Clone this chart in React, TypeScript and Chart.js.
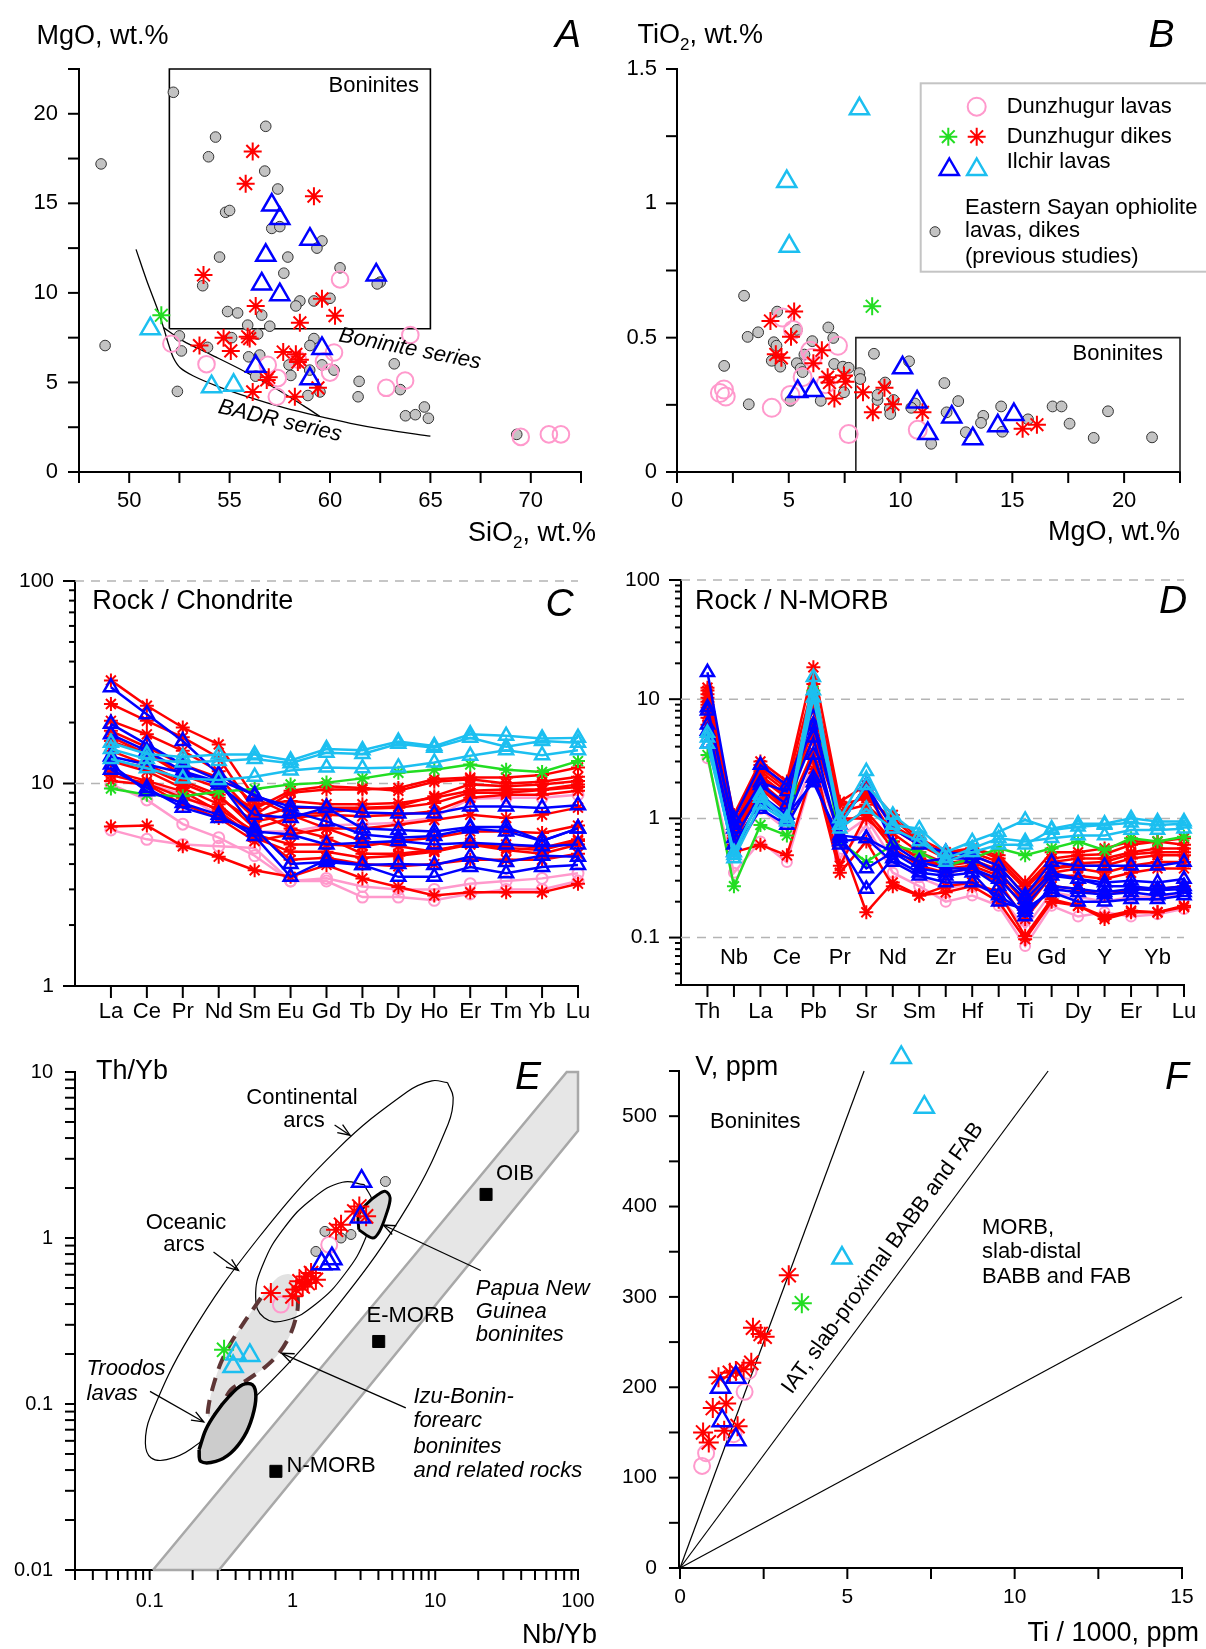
import React, { useEffect, useRef } from 'react';
import { Chart, registerables } from 'chart.js';

Chart.register(...registerables);

const FONT = '"Liberation Sans", Arial, Helvetica, sans-serif';
const COLOR = { red: '#ff0000', green: '#22dd22', blue: '#0000ff', cyan: '#1cbff0', pink: '#ff99cc', gray: '#c3c3c3' };

// ---------------- Panel A : MgO vs SiO2 ----------------
const A_GRAY = [[48.6,17.2],[48.8,7.06],[52.2,21.2],[54.3,18.7],[53.95,17.6],[56.8,19.3],[56.75,16.8],[57.4,15.8],[54.8,14.5],[55.0,14.6],[57.1,13.6],[57.5,13.7],[54.5,12.0],[59.6,12.9],[59.35,12.5],[57.9,12.0],[57.7,11.1],[60.5,11.4],[62.5,10.6],[62.35,10.5],[53.66,10.4],[58.5,9.55],[58.3,9.27],[59.2,9.55],[60.0,9.7],[54.9,8.96],[55.4,8.88],[56.6,8.76],[55.9,8.2],[57.0,8.14],[52.5,7.6],[52.6,6.76],[53.9,6.96],[55.1,7.5],[56.4,7.7],[59.2,7.45],[59.0,7.06],[55.95,6.43],[56.5,6.53],[57.96,5.98],[59.6,5.98],[60.2,5.69],[56.3,5.35],[58.05,5.39],[58.99,5.69],[52.4,4.5],[58.9,4.27],[59.5,4.47],[61.45,5.06],[61.4,4.2],[63.2,6.04],[63.5,4.6],[63.76,3.14],[64.25,3.2],[64.7,3.63],[64.9,3.0],[69.3,2.1]];
const A_PINK = [[60.5,10.75],[52.1,7.16],[53.85,6.02],[56.9,5.98],[57.4,5.24],[57.35,4.2],[58.4,6.27],[59.7,6.18],[60.2,6.67],[60.0,5.55],[64.0,7.65],[62.8,4.7],[63.74,5.1],[69.5,1.96],[70.9,2.1],[71.5,2.1]];
const A_RED = [[56.15,17.9],[55.8,16.1],[59.2,15.4],[53.7,11.0],[56.3,9.27],[59.6,9.67],[60.25,8.73],[58.5,8.33],[54.7,7.49],[55.9,7.55],[56.0,7.45],[53.5,7.06],[55.06,6.76],[57.67,6.7],[58.3,6.57],[58.5,6.27],[58.4,6.14],[56.95,5.29],[56.85,5.14],[56.15,4.47],[58.25,4.2],[59.4,4.7]];
const A_GREEN = [[51.6,8.75]];
const A_BLUE = [[57.1,14.9],[57.5,14.15],[59.0,13.0],[56.8,12.1],[56.6,10.5],[57.5,9.9],[62.3,11.0],[59.6,6.9],[56.3,5.9],[59.0,5.2]];
const A_CYAN = [[51.05,8.0],[54.1,4.76],[55.2,4.84]];
const A_LINE_LOWER = [[50.34,12.43],[50.88,10.66],[51.38,9.18],[51.71,8.06],[51.96,7.13],[52.2,6.38],[52.54,5.82],[53.2,5.36],[54.37,4.8],[56.03,4.15],[57.7,3.59],[59.36,3.13],[61.02,2.72],[62.68,2.38],[65.0,2.0]];
const A_LINE_UPPER = [[51.71,8.06],[52.7,7.31],[54.04,6.57],[55.7,5.64],[57.36,4.62],[58.69,3.69],[59.5,3.1]];
const A_BONINITE_FIELD = [[52,8],[52,22.5],[65,22.5],[65,8],[52,8]];

// ---------------- Panel B : TiO2 vs MgO ----------------
const B_GRAY = [[3.0,0.656],[3.16,0.503],[3.63,0.52],[2.11,0.395],[3.21,0.252],[4.48,0.597],[4.33,0.483],[4.45,0.47],[4.24,0.414],[4.62,0.392],[5.36,0.529],[5.07,0.265],[6.05,0.487],[5.7,0.437],[5.36,0.405],[5.53,0.385],[5.62,0.372],[6.77,0.538],[6.99,0.499],[6.43,0.265],[7.03,0.402],[7.42,0.392],[7.68,0.388],[8.16,0.368],[8.2,0.346],[7.47,0.297],[8.81,0.44],[9.31,0.333],[8.97,0.268],[9.69,0.268],[9.52,0.235],[9.54,0.216],[10.38,0.412],[10.64,0.255],[10.48,0.239],[11.96,0.331],[12.06,0.222],[12.58,0.264],[11.37,0.105],[12.92,0.148],[13.7,0.209],[13.6,0.183],[14.5,0.244],[14.55,0.15],[15.7,0.196],[16.8,0.244],[17.2,0.244],[17.56,0.18],[18.64,0.127],[19.28,0.226],[21.25,0.129],[8.97,0.287]];
const B_PINK = [[2.1,0.307],[2.18,0.281],[1.92,0.294],[4.24,0.239],[4.72,0.575],[5.19,0.529],[5.07,0.287],[5.62,0.353],[5.96,0.451],[6.05,0.425],[6.65,0.327],[7.2,0.47],[7.68,0.141],[10.77,0.157]];
const B_RED = [[4.18,0.562],[5.24,0.597],[5.1,0.503],[4.42,0.438],[4.67,0.425],[6.48,0.453],[6.1,0.405],[6.74,0.353],[6.82,0.333],[7.47,0.359],[7.54,0.336],[7.04,0.274],[8.32,0.297],[8.76,0.222],[9.28,0.314],[9.66,0.252],[10.98,0.222],[15.46,0.161],[16.1,0.176]];
const B_GREEN = [[8.73,0.617]];
const B_BLUE = [[5.4,0.3],[6.1,0.303],[10.09,0.388],[10.74,0.261],[11.22,0.143],[12.29,0.205],[13.23,0.124],[14.35,0.172],[15.07,0.214]];
const B_CYAN = [[8.16,1.352],[4.91,1.081],[5.02,0.84]];
const B_BONINITE_FIELD = [[8,0],[8,0.5],[22.5,0.5],[22.5,0]];

// ---------------- Panel C : REE / chondrite ----------------
const REE = ['La','Ce','Pr','Nd','Sm','Eu','Gd','Tb','Dy','Ho','Er','Tm','Yb','Lu'];
const C_PINK = [
  [9.9,8.3,6.3,5.4,4.4,3.3,3.3,2.75,2.75,2.65,2.85,3.0,3.0,3.3],
  [5.9,5.3,5.0,4.9,4.8,3.3,3.4,3.1,3.0,3.0,3.2,3.3,3.4,3.6],
  [11.0,10.0,8.8,7.0,5.8,5.8,6.2,6.3,6.4,6.8,8.4,8.5,8.5,8.8],
];
const C_RED = [
  [32.3,24.2,18.9,15.6,8.5,7.0,6.0,5.2,4.9,4.6,5.1,4.8,4.7,5.2],
  [24.7,20.4,16.9,13.4,7.3,6.0,5.4,4.5,4.5,4.7,5.0,5.0,4.8,5.3],
  [20.4,17.5,14.5,11.5,7.9,8.2,7.9,7.9,8.0,8.5,9.2,9.35,9.35,9.9],
  [18.2,15.1,12.4,10.7,7.0,9.0,9.35,9.35,9.5,10.5,10.7,10.7,11.0,12.0],
  [16.2,14.0,11.5,9.9,6.75,7.6,7.6,7.6,7.7,8.66,9.9,9.7,9.9,10.3],
  [14.5,12.4,10.3,8.8,6.0,6.75,7.0,6.9,7.0,7.3,8.5,8.8,8.8,9.2],
  [12.9,11.5,9.5,7.9,5.6,5.0,5.0,4.9,5.2,5.4,5.8,5.8,5.7,6.2],
  [11.5,10.3,9.15,7.3,5.4,4.6,4.6,4.3,4.4,4.6,5.0,4.7,4.5,5.0],
  [6.14,6.2,4.9,4.35,3.73,3.46,3.96,3.4,3.08,2.8,2.9,2.9,2.9,3.2],
  [10.3,9.9,7.9,6.75,5.2,5.6,6.0,6.0,6.25,6.6,7.0,6.75,7.0,7.6],
  [13.0,12.0,10.0,8.5,6.5,7.0,7.2,7.5,7.6,8.0,9.0,9.0,9.3,9.6],
  [17.0,14.0,11.0,9.5,7.5,9.2,9.7,9.5,9.2,10.2,10.5,10.0,10.2,10.8],
  [11.0,10.0,8.5,7.5,5.8,4.2,4.3,4.0,3.9,4.0,4.2,4.2,4.2,4.5],
];
const C_GREEN = [[9.44,8.8,8.66,9.1,9.4,9.9,10.1,10.6,11.3,11.7,12.4,11.7,11.4,12.9]];
const C_BLUE = [
  [29.9,22.0,16.2,11.1,8.66,7.7,7.57,7.2,7.1,7.1,7.7,7.7,7.57,7.8],
  [19.7,15.6,12.4,10.4,8.8,7.3,6.5,5.6,5.4,5.5,6.0,5.8,5.2,6.0],
  [17.5,14.5,11.5,10.2,6.0,4.0,4.1,3.96,4.0,3.96,4.35,4.1,4.4,4.35],
  [12.4,9.15,8.0,7.0,5.5,3.46,4.2,3.96,3.46,3.46,3.87,3.6,3.87,3.96],
  [11.7,9.5,7.6,6.75,5.8,5.6,5.0,5.1,5.2,5.0,5.1,5.0,4.9,5.0],
  [13.6,12.4,11.3,9.9,7.0,6.75,7.6,6.0,5.9,5.8,6.1,6.1,5.2,6.0],
];
const C_CYAN = [
  [15.9,14.0,13.5,13.9,13.9,13.0,14.8,14.6,16.1,15.3,17.5,17.2,16.7,16.8],
  [14.8,13.2,12.7,12.9,13.2,12.6,14.2,14.0,15.7,15.0,16.8,15.2,16.2,15.9],
  [13.2,11.9,10.6,10.4,10.8,11.6,12.0,11.9,12.0,12.7,13.7,14.6,13.8,14.6],
];

// ---------------- Panel D : trace elements / N-MORB ----------------
const TRACE = ['Th','Nb','La','Ce','Pb','Pr','Sr','Nd','Sm','Zr','Hf','Eu','Ti','Gd','Dy','Y','Er','Yb','Lu'];
const D_PINK = [
  [3.2,0.35,0.64,0.43,2.48,0.46,0.88,0.35,0.27,0.2,0.225,0.185,0.085,0.185,0.15,0.163,0.15,0.157,0.174],
  [5.0,0.5,1.2,0.8,3.0,0.7,1.0,0.45,0.32,0.26,0.28,0.23,0.12,0.24,0.22,0.2,0.22,0.22,0.23],
];
const D_RED = [
  [12.5,1.07,3.0,2.04,18.5,1.38,1.9,1.07,0.68,0.52,0.56,0.46,0.27,0.46,0.49,0.5,0.6,0.64,0.6],
  [11.0,0.82,2.48,1.68,10.3,1.14,1.3,0.82,0.6,0.46,0.49,0.4,0.225,0.38,0.4,0.4,0.46,0.49,0.49],
  [9.0,0.72,2.0,1.3,6.1,0.88,1.14,0.64,0.46,0.38,0.4,0.33,0.174,0.33,0.33,0.31,0.35,0.38,0.38],
  [7.5,0.6,1.79,1.14,3.66,0.68,0.163,0.29,0.225,0.27,0.29,0.24,0.103,0.21,0.185,0.143,0.163,0.163,0.18],
  [6.1,0.52,0.6,0.49,2.6,0.35,0.64,0.27,0.225,0.24,0.27,0.2,0.097,0.2,0.185,0.15,0.168,0.163,0.185],
  [10.3,0.88,2.64,1.79,8.5,1.07,1.68,0.88,0.64,0.49,0.52,0.43,0.256,0.43,0.46,0.46,0.52,0.56,0.56],
  [8.5,0.68,2.18,1.48,4.74,1.0,1.0,0.64,0.46,0.4,0.43,0.35,0.2,0.35,0.38,0.35,0.4,0.43,0.43],
  [7.0,0.64,1.9,1.2,3.2,0.4,1.07,0.56,0.4,0.35,0.38,0.29,0.143,0.27,0.256,0.225,0.256,0.256,0.27],
  [11.8,1.0,2.8,1.9,13.4,1.3,1.48,1.0,0.64,0.49,0.56,0.49,0.29,0.52,0.52,0.56,0.64,0.64,0.68],
  [9.5,0.8,2.3,1.55,5.5,1.1,1.6,0.75,0.52,0.42,0.45,0.37,0.19,0.38,0.42,0.43,0.5,0.52,0.52],
];
const D_GREEN = [[3.4,0.27,0.88,0.72,11.8,0.64,0.43,0.6,0.52,0.4,0.46,0.56,0.49,0.56,0.64,0.54,0.68,0.64,0.7]];
const D_BLUE = [
  [16.8,1.0,2.8,1.9,7.0,0.88,1.9,0.82,0.6,0.52,0.49,0.4,0.225,0.43,0.4,0.4,0.4,0.4,0.43],
  [8.0,0.88,1.9,1.3,4.74,0.64,0.68,0.52,0.43,0.38,0.38,0.31,0.185,0.33,0.31,0.29,0.3,0.29,0.31],
  [5.4,0.52,1.2,0.88,2.18,0.6,0.256,0.46,0.35,0.33,0.35,0.2,0.174,0.24,0.2,0.2,0.21,0.21,0.225],
  [8.5,0.82,2.0,1.68,6.1,0.88,1.9,0.6,0.43,0.46,0.46,0.35,0.21,0.35,0.31,0.27,0.27,0.256,0.27],
  [4.2,0.6,1.38,1.0,3.4,0.72,0.68,0.43,0.33,0.29,0.29,0.225,0.163,0.256,0.24,0.23,0.24,0.225,0.24],
  [6.1,0.68,1.57,1.07,2.0,0.68,0.38,0.52,0.38,0.35,0.38,0.27,0.15,0.27,0.256,0.24,0.256,0.25,0.256],
];
const D_CYAN = [
  [4.74,0.49,1.57,1.0,11.8,1.0,2.48,0.88,0.82,0.52,0.64,0.77,0.97,0.82,0.9,0.9,1.0,0.94,0.94],
  [5.2,0.46,1.3,0.94,15.3,0.82,1.2,0.82,0.64,0.46,0.56,0.68,0.64,0.68,0.72,0.72,0.8,0.8,0.82],
  [4.2,0.52,1.48,0.94,10.3,0.88,1.9,1.07,0.72,0.43,0.52,0.6,0.6,0.8,0.85,0.88,0.92,0.88,0.9],
];

// ---------------- Panel E : Th/Yb vs Nb/Yb ----------------
const E_GRAY = [[4.48,2.19],[1.69,1.096],[1.46,0.83],[2.19,1.0],[2.57,1.05]];
const E_PINK = [[1.81,0.91],[0.83,0.397]];
const E_RED = [[2.94,1.55],[2.71,1.445],[3.28,1.35],[2.19,1.2],[2.02,1.12],[1.24,0.587],[1.35,0.615],[1.12,0.548],[1.46,0.56],[1.18,0.51],[1.0,0.445],[0.706,0.466],[1.28,0.535],[1.06,0.49]];
const E_GREEN = [[0.332,0.212]];
const E_BLUE = [[3.05,2.2],[2.99,1.34],[1.6,0.7],[1.81,0.7],[1.89,0.75]];
const E_CYAN = [[0.402,0.2],[0.503,0.196],[0.384,0.168]];
const E_REFERENCE = [[0.766,0.0393],[4.02,0.238],[22.7,1.83]]; // N-MORB, E-MORB, OIB
const E_MORB_OIB_ARRAY = [[0.1055,0.01],[0.306,0.01],[100,4.43],[100,10],[83.4,10],[0.1055,0.01]];
const E_ARC_FIELD_OUTER = [[12.2,8.62],[13.36,7.02],[12.32,4.868],[6.527,1.594],[2.158,0.4093],[0.5972,0.1183],[0.1955,0.05377],[0.1314,0.04619],[0.1021,0.04749],[0.0933,0.0583],[0.1011,0.0841],[0.1908,0.2564],[0.5773,1.0],[2.086,3.456],[6.371,7.608],[9.48,8.85],[12.2,8.62]];
const E_ARC_FIELD_INNER = [[3.19,2.095],[3.66,1.58],[3.26,1.004],[2.325,0.607],[1.452,0.3988],[0.903,0.3197],[0.634,0.3311],[0.5528,0.4387],[0.621,0.6905],[0.87,1.142],[1.393,1.737],[2.24,2.168],[3.19,2.095]];
const E_TROODOS = [[0.2218,0.053],[0.2472,0.07003],[0.2904,0.08826],[0.36,0.1111],[0.4465,0.1307],[0.5248,0.1307],[0.5545,0.1111],[0.5248,0.0842],[0.459,0.0638],[0.3701,0.0507],[0.2904,0.0451],[0.228,0.0451],[0.2218,0.053]];
const E_PNG = [[2.914,1.122],[3.649,1.0],[4.066,1.096],[4.531,1.382],[4.833,1.742],[4.479,1.909],[3.956,1.823],[3.365,1.625],[2.91,1.382],[2.914,1.122]];
const E_IZU_BONIN = [[0.601,0.435],[0.4718,0.322],[0.3701,0.233],[0.3148,0.1766],[0.2826,0.1338],[0.2607,0.1014],[0.2578,0.0842],[0.298,0.0883],[0.3701,0.1219],[0.4841,0.14],[0.6516,0.1684],[0.808,0.2028],[0.9761,0.2677],[1.086,0.37],[1.086,0.488],[0.976,0.601],[0.808,0.587],[0.6873,0.511],[0.601,0.435]];

// ---------------- Panel F : V vs Ti/1000 ----------------
const F_PINK = [[0.66,113],[0.78,127],[1.93,195],[2.05,218],[1.6,148]];
const F_RED = [[3.25,324],[2.18,266],[2.41,259],[2.53,256],[2.13,227],[1.9,220],[1.67,218],[1.49,216],[1.15,211],[0.98,177],[1.38,182],[1.72,157],[1.32,152],[0.69,150],[0.86,139]];
const F_GREEN = [[3.64,293]];
const F_BLUE = [[1.21,200],[1.67,211],[1.26,163],[1.67,142]];
const F_CYAN = [[6.61,565],[7.3,510],[4.84,343]];
const F_TIV_LINES = [[[0,0],[5.5,550]],[[0,0],[11,550]],[[0,0],[15,300]]]; // Ti/V = 10, 20, 50
const F_V_AXIS_TOP = 550;

// ---------------- helpers ----------------
const xy = (arr) => arr.map(([x, y]) => ({ x, y }));
const seq = (a, b, step) => { const o = []; for (let v = a; v <= b + 1e-9; v += step) o.push(+v.toFixed(6)); return o; };
const logTicks = (lo, hi) => {
  const o = [];
  for (let e = Math.floor(Math.log10(lo)) - 1; e <= Math.ceil(Math.log10(hi)); e++) {
    for (let m = 1; m <= 9; m++) {
      const v = +(m * Math.pow(10, e)).toPrecision(6);
      if (v >= lo * (1 - 1e-9) && v <= hi * (1 + 1e-9)) o.push(v);
    }
  }
  return o;
};
const isPow10 = (v) => Math.abs(Math.log10(v) - Math.round(Math.log10(v))) < 1e-9;
const isMult = (v, m) => Math.abs(v / m - Math.round(v / m)) < 1e-9;

const mk = (style, r, stroke, fill = 'rgba(0,0,0,0)', lw = 2) => ({
  pointStyle: style, pointRadius: r, pointHoverRadius: r, pointBorderColor: stroke,
  pointBackgroundColor: fill, pointBorderWidth: lw, pointHoverBorderWidth: lw,
});
const M = {
  gray: (r) => mk('circle', r, '#333', COLOR.gray, 1),
  pink: (r) => mk('circle', r, COLOR.pink, 'rgba(0,0,0,0)', 2),
  red: (r) => mk('star', r, COLOR.red, 'rgba(0,0,0,0)', 2),
  green: (r) => mk('star', r, COLOR.green, 'rgba(0,0,0,0)', 2),
  blue: (r) => mk('triangle', r, COLOR.blue, 'rgba(0,0,0,0)', 2.5),
  cyan: (r) => mk('triangle', r, COLOR.cyan, 'rgba(0,0,0,0)', 2.5),
  sq: (r) => mk('rect', r, '#000', '#000', 1),
};
const sc = (pts, m) => ({ type: 'scatter', data: xy(pts), showLine: false, clip: false, ...m });
const lineDs = (pts, o: any = {}) => ({
  type: 'line', data: xy(pts), borderColor: o.color || '#000', borderWidth: o.width ?? 1.2,
  borderDash: o.dash || [], pointRadius: 0, pointHoverRadius: 0, tension: o.tension ?? 0,
  fill: o.fill ? 'shape' : false, backgroundColor: o.fill || 'rgba(0,0,0,0)', clip: false, spanGaps: true,
});
const spider = (vals, m, color) => ({
  type: 'line', data: vals.map((v, i) => ({ x: i, y: v })), borderColor: color, borderWidth: 2.5,
  tension: 0, clip: false, fill: false, ...m,
});
const ordered = (ds) => ds.map((d, i) => ({ ...d, order: -i }));

function mkScale(o) {
  return {
    type: o.type || 'linear', min: o.min, max: o.max, position: o.axis === 'x' ? 'bottom' : 'left',
    afterBuildTicks: (s) => { s.ticks = o.ticks.map((v) => ({ value: v })); },
    afterFit: (s) => {
      if (o.axis === 'x') s.height = o.fit; else s.width = o.fit;
      s.paddingLeft = 0; s.paddingRight = 0; s.paddingTop = 0; s.paddingBottom = 0;
    },
    grid: { display: true, drawOnChartArea: false, drawTicks: false },
    border: { display: o.noBorder ? false : true, color: '#000', width: 2 },
    ticks: {
      callback: (v) => o.label(v), font: { family: FONT, size: o.size }, color: '#000',
      padding: o.pad, autoSkip: false, maxRotation: 0, minRotation: 0,
    },
  };
}

function tickMarks(lenX, lenY, yAxisTop?) {
  return {
    id: 'tickmarks',
    afterDraw(chart) {
      const { ctx, chartArea: ca } = chart;
      const sx = chart.scales.x, sy = chart.scales.y;
      ctx.save(); ctx.strokeStyle = '#000'; ctx.lineWidth = 2;
      if (yAxisTop !== undefined) {
        ctx.beginPath(); ctx.moveTo(ca.left - 1, ca.bottom); ctx.lineTo(ca.left - 1, sy.getPixelForValue(yAxisTop)); ctx.stroke();
      }
      for (const t of sx.ticks) {
        const p = sx.getPixelForValue(t.value);
        ctx.beginPath(); ctx.moveTo(p, ca.bottom); ctx.lineTo(p, ca.bottom + lenX(t.value)); ctx.stroke();
      }
      for (const t of sy.ticks) {
        const p = sy.getPixelForValue(t.value);
        ctx.beginPath(); ctx.moveTo(ca.left, p); ctx.lineTo(ca.left - lenY(t.value), p); ctx.stroke();
      }
      ctx.restore();
    },
  };
}
const annot = (fn) => ({ id: 'annot', afterDraw(chart) { fn(chart.ctx, chart); } });

function T(ctx, s, x, y, o: any = {}) {
  const { size = 22, align = 'left', italic = false, rot = 0 } = o;
  ctx.save();
  ctx.font = `${italic ? 'italic ' : ''}${size}px ${FONT}`;
  ctx.fillStyle = '#000'; ctx.textAlign = align; ctx.textBaseline = 'middle';
  ctx.translate(x, y); if (rot) ctx.rotate((rot * Math.PI) / 180);
  ctx.fillText(s, 0, 0);
  ctx.restore();
}
function RT(ctx, parts, x, y, size, align = 'left') {
  ctx.save(); ctx.fillStyle = '#000'; ctx.textBaseline = 'alphabetic'; ctx.textAlign = 'left';
  const sub = Math.round(size * 0.62);
  const w = parts.map(([t, s]) => { ctx.font = `${s ? sub : size}px ${FONT}`; return ctx.measureText(t).width; });
  const total = w.reduce((a, b) => a + b, 0);
  let cx = align === 'right' ? x - total : x;
  const base = y + size * 0.36;
  parts.forEach(([t, s], i) => { ctx.font = `${s ? sub : size}px ${FONT}`; ctx.fillText(t, cx, base + (s ? size * 0.24 : 0)); cx += w[i]; });
  ctx.restore();
}
function ARW(ctx, x1, y1, x2, y2) {
  ctx.save(); ctx.strokeStyle = '#000'; ctx.lineWidth = 1.3;
  ctx.beginPath(); ctx.moveTo(x1, y1); ctx.lineTo(x2, y2); ctx.stroke();
  const a = Math.atan2(y2 - y1, x2 - x1), L = 13, w = 0.38;
  ctx.beginPath();
  ctx.moveTo(x2 - L * Math.cos(a - w), y2 - L * Math.sin(a - w)); ctx.lineTo(x2, y2);
  ctx.lineTo(x2 - L * Math.cos(a + w), y2 - L * Math.sin(a + w)); ctx.stroke();
  ctx.restore();
}
function mCircle(ctx, x, y, r, stroke, fill, lw) {
  ctx.save(); ctx.beginPath(); ctx.arc(x, y, r, 0, Math.PI * 2);
  if (fill) { ctx.fillStyle = fill; ctx.fill(); }
  ctx.strokeStyle = stroke; ctx.lineWidth = lw; ctx.stroke(); ctx.restore();
}
function mTri(ctx, x, y, r, color, lw) {
  ctx.save(); ctx.beginPath();
  ctx.moveTo(x, y - r); ctx.lineTo(x + 0.866 * r, y + 0.5 * r); ctx.lineTo(x - 0.866 * r, y + 0.5 * r); ctx.closePath();
  ctx.strokeStyle = color; ctx.lineWidth = lw; ctx.stroke(); ctx.restore();
}
function mStar(ctx, x, y, r, color, lw) {
  ctx.save(); ctx.strokeStyle = color; ctx.lineWidth = lw; ctx.beginPath();
  for (let k = 0; k < 4; k++) {
    const a = (k * Math.PI) / 4;
    ctx.moveTo(x - r * Math.cos(a), y - r * Math.sin(a)); ctx.lineTo(x + r * Math.cos(a), y + r * Math.sin(a));
  }
  ctx.stroke(); ctx.restore();
}

const baseOpts = (pad, scales) => ({
  animation: false, responsive: false, maintainAspectRatio: false, devicePixelRatio: 1, events: [],
  layout: { padding: pad, autoPadding: false },
  plugins: { legend: { display: false }, tooltip: { enabled: false } },
  scales,
});

// ---------------- chart configs ----------------
const cfgA = () => ({
  type: 'scatter',
  data: { datasets: ordered([
    lineDs(A_BONINITE_FIELD, { width: 1.6 }),
    lineDs(A_LINE_LOWER, { width: 1.3, tension: 0.3 }),
    lineDs(A_LINE_UPPER, { width: 1.3, tension: 0.3 }),
    sc(A_GRAY, M.gray(5.3)), sc(A_PINK, M.pink(8.3)), sc(A_RED, M.red(9)), sc(A_GREEN, M.green(9)),
    sc(A_BLUE, M.blue(11)), sc(A_CYAN, M.cyan(11)),
  ]) },
  options: baseOpts({ left: 0, top: 69, right: 22, bottom: 0 }, {
    x: mkScale({ axis: 'x', min: 47.5, max: 72.5, ticks: seq(47.5, 72.5, 2.5), label: (v) => (isMult(v, 5) ? String(v) : ''), size: 22, pad: 16, fit: 88 }),
    y: mkScale({ axis: 'y', min: 0, max: 22.5, ticks: seq(0, 22.5, 2.5), label: (v) => (isMult(v, 5) ? String(v) : ''), size: 22, pad: 21, fit: 79 }),
  }),
  plugins: [tickMarks(() => 11, () => 11), annot((ctx) => {
    T(ctx, 'MgO, wt.%', 36.5, 37, { size: 27 });
    T(ctx, 'A', 568, 36, { size: 39, italic: true, align: 'center' });
    RT(ctx, [['SiO', false], ['2', true], [', wt.%', false]], 596, 531.6, 27, 'right');
    T(ctx, 'Boninites', 419, 86, { size: 22, align: 'right' });
    T(ctx, 'Boninite series', 410, 349, { size: 22, italic: true, align: 'center', rot: 11 });
    T(ctx, 'BADR series', 280, 421, { size: 22, italic: true, align: 'center', rot: 13 });
  })],
});

const cfgB = () => ({
  type: 'scatter',
  data: { datasets: ordered([
    lineDs(B_BONINITE_FIELD, { width: 1.6, color: '#222' }),
    sc(B_GRAY, M.gray(5.4)), sc(B_PINK, M.pink(9)), sc(B_RED, M.red(9)), sc(B_GREEN, M.green(9)),
    sc(B_BLUE, M.blue(11)), sc(B_CYAN, M.cyan(11)),
  ]) },
  options: baseOpts({ left: 0, top: 69, right: 26, bottom: 0 }, {
    x: mkScale({ axis: 'x', min: 0, max: 22.5, ticks: seq(0, 22.5, 2.5), label: (v) => (isMult(v, 5) ? String(v) : ''), size: 22, pad: 16, fit: 88 }),
    y: mkScale({ axis: 'y', min: 0, max: 1.5, ticks: seq(0, 1.5, 0.25), label: (v) => (isMult(v, 0.5) ? String(v) : ''), size: 22, pad: 20, fit: 74 }),
  }),
  plugins: [tickMarks(() => 11, () => 11), annot((ctx) => {
    RT(ctx, [['TiO', false], ['2', true], [', wt.%', false]], 34.6, 33.3, 27, 'left');
    T(ctx, 'B', 558.5, 36, { size: 39, italic: true, align: 'center' });
    T(ctx, 'MgO, wt.%', 577, 533, { size: 27, align: 'right' });
    T(ctx, 'Boninites', 560, 354, { size: 22, align: 'right' });
    ctx.save(); ctx.strokeStyle = '#c4c4c4'; ctx.lineWidth = 2; ctx.strokeRect(317.7, 83.3, 330, 188.4); ctx.restore();
    mCircle(ctx, 373.7, 106.7, 9, COLOR.pink, null, 2);
    T(ctx, 'Dunzhugur lavas', 403.7, 106.7);
    mStar(ctx, 345.3, 136.7, 9, COLOR.green, 2); mStar(ctx, 373.7, 136.7, 9, COLOR.red, 2);
    T(ctx, 'Dunzhugur dikes', 403.7, 136.7);
    mTri(ctx, 346.3, 169.5, 11, COLOR.blue, 2.5); mTri(ctx, 373.7, 169.5, 11, COLOR.cyan, 2.5);
    T(ctx, 'Ilchir lavas', 403.7, 161.7);
    mCircle(ctx, 332, 231.7, 5, '#333', COLOR.gray, 1);
    T(ctx, 'Eastern Sayan ophiolite', 362, 208.3);
    T(ctx, 'lavas, dikes', 362, 230.5);
    T(ctx, '(previous studies)', 362, 256.7);
  })],
});

const cfgC = () => ({
  type: 'scatter',
  data: { datasets: ordered([
    lineDs([[-1, 100], [13, 100]], { color: '#b4b4b4', width: 1.5, dash: [9, 7] }),
    lineDs([[-1, 10], [13, 10]], { color: '#b4b4b4', width: 1.5, dash: [9, 7] }),
    ...C_PINK.map((v) => spider(v, M.pink(5.5), COLOR.pink)),
    ...C_RED.map((v) => spider(v, M.red(7), COLOR.red)),
    ...C_GREEN.map((v) => spider(v, M.green(7), COLOR.green)),
    ...C_BLUE.map((v) => spider(v, M.blue(8), COLOR.blue)),
    ...C_CYAN.map((v) => spider(v, M.cyan(8), COLOR.cyan)),
  ]) },
  options: baseOpts({ left: 0, top: 31, right: 25, bottom: 0 }, {
    x: mkScale({ axis: 'x', min: -1, max: 13, ticks: seq(0, 13, 1), label: (v) => REE[Math.round(v)] || '', size: 22, pad: 13, fit: 44 }),
    y: mkScale({ axis: 'y', type: 'logarithmic', min: 1, max: 100, ticks: logTicks(1, 100), label: (v) => (isPow10(v) ? String(v) : ''), size: 21, pad: 21, fit: 75 }),
  }),
  plugins: [tickMarks(() => 12, (v) => (isPow10(v) ? 12 : 6)), annot((ctx) => {
    T(ctx, 'Rock / Chondrite', 92.3, 52, { size: 27 });
    T(ctx, 'C', 559.5, 55.4, { size: 39, italic: true, align: 'center' });
  })],
});

const cfgD = () => ({
  type: 'scatter',
  data: { datasets: ordered([
    ...[100, 10, 1, 0.1].map((g) => lineDs([[-1, g], [18, g]], { color: '#b4b4b4', width: 1.5, dash: [9, 7] })),
    ...D_PINK.map((v) => spider(v, M.pink(5), COLOR.pink)),
    ...D_RED.map((v) => spider(v, M.red(7), COLOR.red)),
    ...D_GREEN.map((v) => spider(v, M.green(7), COLOR.green)),
    ...D_BLUE.map((v) => spider(v, M.blue(7.5), COLOR.blue)),
    ...D_CYAN.map((v) => spider(v, M.cyan(7.5), COLOR.cyan)),
  ]) },
  options: baseOpts({ left: 0, top: 30, right: 22, bottom: 0 }, {
    x: mkScale({ axis: 'x', min: -1, max: 18, ticks: seq(0, 18, 1), label: (v) => (Math.round(v) % 2 === 0 ? TRACE[Math.round(v)] : ''), size: 22, pad: 14, fit: 45 }),
    y: mkScale({ axis: 'y', type: 'logarithmic', min: 0.04, max: 100, ticks: logTicks(0.04, 100), label: (v) => (isPow10(v) ? String(v) : ''), size: 21, pad: 21, fit: 78 }),
  }),
  plugins: [tickMarks(() => 12, (v) => (isPow10(v) ? 12 : 6)), annot((ctx, chart) => {
    T(ctx, 'Rock / N-MORB', 92, 52, { size: 27 });
    T(ctx, 'D', 570, 52, { size: 39, italic: true, align: 'center' });
    const sx = chart.scales.x;
    TRACE.forEach((el, i) => { if (i % 2 === 1) T(ctx, el, sx.getPixelForValue(i), 407.7, { size: 22, align: 'center' }); });
  })],
});

const cfgE = () => ({
  type: 'scatter',
  data: { datasets: ordered([
    lineDs(E_MORB_OIB_ARRAY, { color: '#a8a8a8', width: 2.5, fill: '#e6e6e6' }),
    lineDs(E_ARC_FIELD_OUTER, { width: 1.2, tension: 0.4 }),
    lineDs(E_IZU_BONIN, { color: 'rgba(0,0,0,0)', width: 0, fill: '#e2e2e2', tension: 0.3 }),
    lineDs(E_ARC_FIELD_INNER, { width: 1.2, tension: 0.45 }),
    lineDs(E_IZU_BONIN.slice(0, 15), { color: '#5e3636', width: 4, dash: [14, 9], tension: 0.3 }),
    lineDs(E_TROODOS, { width: 3.5, fill: '#cccccc', tension: 0.35 }),
    lineDs(E_PNG, { width: 3, fill: '#d8d8d8', tension: 0.35 }),
    sc(E_REFERENCE, M.sq(8.5)),
    sc(E_GRAY, M.gray(5)), sc(E_PINK, M.pink(8)), sc(E_RED, M.red(10)), sc(E_GREEN, M.green(10)),
    sc(E_BLUE, M.blue(11)), sc(E_CYAN, M.cyan(11)),
  ]) },
  options: baseOpts({ left: 0, top: 42, right: 25, bottom: 0 }, {
    x: mkScale({ axis: 'x', type: 'logarithmic', min: 0.03, max: 100, ticks: logTicks(0.03, 100), label: (v) => (isPow10(v) ? String(v) : ''), size: 20, pad: 19, fit: 79 }),
    y: mkScale({ axis: 'y', type: 'logarithmic', min: 0.01, max: 10, ticks: logTicks(0.01, 10), label: (v) => (isPow10(v) ? String(v) : ''), size: 20, pad: 22, fit: 75 }),
  }),
  plugins: [tickMarks(() => 10, () => 10), annot((ctx) => {
    T(ctx, 'Th/Yb', 96, 41.7, { size: 27 });
    T(ctx, 'E', 528, 48, { size: 39, italic: true, align: 'center' });
    T(ctx, 'Continental', 302, 68.4, { align: 'center' });
    T(ctx, 'arcs', 304, 91, { align: 'center' });
    ARW(ctx, 334.6, 95, 350, 105.2);
    T(ctx, 'Oceanic', 186, 193.4, { align: 'center' });
    T(ctx, 'arcs', 184, 215, { align: 'center' });
    ARW(ctx, 213.5, 222, 238.5, 240.5);
    T(ctx, 'Troodos', 86.5, 339, { italic: true });
    T(ctx, 'lavas', 86.5, 363.4, { italic: true });
    ARW(ctx, 150, 361.4, 203.8, 392);
    T(ctx, 'Papua New', 475.8, 259, { italic: true });
    T(ctx, 'Guinea', 475.8, 282, { italic: true });
    T(ctx, 'boninites', 475.8, 305, { italic: true });
    ARW(ctx, 480.8, 240.5, 383.3, 195);
    T(ctx, 'Izu-Bonin-', 413.5, 366.7, { italic: true });
    T(ctx, 'forearc', 413.5, 391.3, { italic: true });
    T(ctx, 'boninites', 413.5, 416.7, { italic: true });
    T(ctx, 'and related rocks', 413.5, 441.3, { italic: true });
    ARW(ctx, 405.8, 377.8, 281.7, 323.3);
    T(ctx, 'OIB', 496, 144);
    T(ctx, 'E-MORB', 366.5, 285.6);
    T(ctx, 'N-MORB', 286.5, 436);
    T(ctx, 'Nb/Yb', 597, 606, { size: 27, align: 'right' });
  })],
});

// F: the plotting area reaches a little above the V axis end (550) so the highest
// Ilchir point (plotted above the axis in the original) is still drawn by Chart.js.
const cfgF = () => ({
  type: 'scatter',
  data: { datasets: ordered([
    ...F_TIV_LINES.map((l) => lineDs(l, { width: 1.2 })),
    sc(F_PINK, M.pink(8)), sc(F_RED, M.red(10)), sc(F_GREEN, M.green(10)),
    sc(F_BLUE, M.blue(11)), sc(F_CYAN, M.cyan(11)),
  ]) },
  options: baseOpts({ left: 0, top: 18.4, right: 24, bottom: 0 }, {
    x: mkScale({ axis: 'x', min: 0, max: 15, ticks: seq(0, 15, 2.5), label: (v) => (isMult(v, 5) ? String(v) : ''), size: 21, pad: 17, fit: 81 }),
    y: mkScale({ axis: 'y', min: 0, max: 575, noBorder: true, ticks: seq(0, F_V_AXIS_TOP, 50), label: (v) => (isMult(v, 100) ? String(v) : ''), size: 21, pad: 23, fit: 77 }),
  }),
  plugins: [tickMarks(() => 11, () => 11, F_V_AXIS_TOP), annot((ctx) => {
    T(ctx, 'V, ppm', 92.3, 37.6, { size: 27 });
    T(ctx, 'F', 574, 48, { size: 39, italic: true, align: 'center' });
    T(ctx, 'Boninites', 107, 92);
    T(ctx, 'IAT, slab-proximal BABB and FAB', 279.8, 228.3, { align: 'center', rot: -54.2 });
    T(ctx, 'MORB,', 379, 197.5);
    T(ctx, 'slab-distal', 379, 222);
    T(ctx, 'BABB and FAB', 379, 246.6);
    T(ctx, 'Ti / 1000, ppm', 596, 604, { size: 27, align: 'right' });
  })],
});

function ChartBox({ l, t, w, h, config }) {
  const ref = useRef(null);
  useEffect(() => {
    const c = new Chart(ref.current, config());
    return () => c.destroy();
  }, []);
  return (
    <canvas ref={ref} width={w} height={h}
      style={{ position: 'absolute', left: l, top: t, width: w, height: h }} />
  );
}

export default function App() {
  useEffect(() => { document.body.style.margin = '0'; document.body.style.background = '#fff'; }, []);
  return (
    <div style={{ position: 'relative', width: 1206, height: 1649, background: '#fff', overflow: 'hidden' }}>
      <ChartBox l={0} t={0} w={603} h={560} config={cfgA} />
      <ChartBox l={603} t={0} w={603} h={560} config={cfgB} />
      <ChartBox l={0} t={550} w={603} h={480} config={cfgC} />
      <ChartBox l={603} t={550} w={603} h={480} config={cfgD} />
      <ChartBox l={0} t={1030} w={603} h={619} config={cfgE} />
      <ChartBox l={603} t={1030} w={603} h={619} config={cfgF} />
    </div>
  );
}
